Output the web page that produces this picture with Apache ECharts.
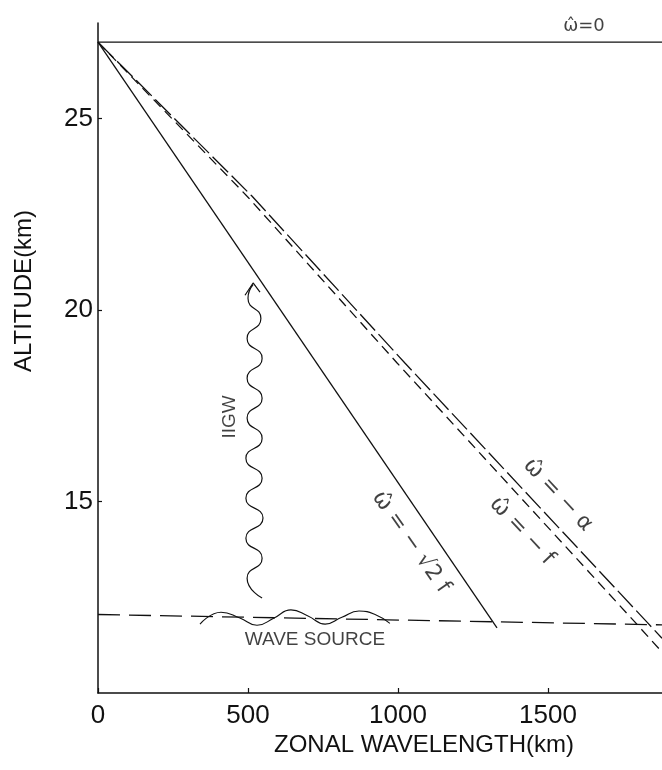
<!DOCTYPE html>
<html><head><meta charset="utf-8">
<script src="https://cdn.jsdelivr.net/npm/echarts@6/dist/echarts.min.js"></script>
<style>html,body{margin:0;padding:0;background:#fff}</style>
</head><body>
<div id="c" style="width:662px;height:770px"></div>
<script>
// ---- data (km, altitude km) ----
var xTicks = [0, 500, 1000, 1500];
var yTicks = [15, 20, 25];
var topLine = [[0, 27], [1880, 27]];                       // omega-hat = 0
var solidLine = [[0, 27], [1330, 11.70]];                  // omega-hat = -sqrt2 f
var dashF = [[0, 27], [500, 22.95], [997, 18.62], [1790, 11.85], [1880, 11.07]];   // omega-hat = -f
var dashA = [[0, 27], [513, 22.98], [1023, 18.62], [1830, 11.85], [1880, 11.43]];  // omega-hat = -alpha
var waveSource = [[0, 12.05], [1880, 11.78]];
var sourceWave = [[340, 11.80], [410, 12.11], [473, 11.96], [530, 11.77], [587, 11.96], [643, 12.17],
  [700, 12.01], [757, 11.80], [813, 11.98], [870, 12.14], [927, 12.04], [973, 11.82]];
var iigwWave = [[547, 12.48], [497, 13.00], [547, 13.52], [493, 14.04], [550, 14.57], [493, 15.09],
  [547, 15.61], [493, 16.13], [547, 16.65], [497, 17.18], [547, 17.70], [497, 18.22], [547, 18.74],
  [497, 19.26], [543, 19.78], [500, 20.31], [517, 20.67]];
var iigwArrow = [[490, 20.39], [517, 20.71], [540, 20.47]];
var annotations = [
  {text: 'ω̂=0', at: [1620, 27.42], rot: 0, size: 18},
  {text: 'ω̂ = − √2 f', at: [1043, 13.94], rot: -55, size: 22},
  {text: 'ω̂ = − f', at: [1413, 14.23], rot: -47, size: 22},
  {text: 'ω̂ = − α', at: [1533, 15.17], rot: -47, size: 22},
  {text: 'IIGW', at: [440, 17.21], rot: 90, size: 19},
  {text: 'WAVE SOURCE', at: [723, 11.38], rot: 0, size: 19}
];

var INK = '#111';
var FONT = 'Liberation Sans';
function lineSeries(data, type, width, smooth) {
  return {type: 'line', data: data, symbol: 'none', smooth: smooth || false, silent: true,
    lineStyle: {color: INK, width: width, type: type}, z: 3};
}
var ch = echarts.init(document.getElementById('c'), null, {renderer: 'canvas'});
ch.setOption({
  animation: false,
  backgroundColor: '#fff',
  grid: {left: 98, right: 0, top: 23, bottom: 77},
  xAxis: {
    type: 'value', min: 0, max: 1880, interval: 500,
    axisLine: {show: true, lineStyle: {color: INK, width: 1.5}},
    axisTick: {show: true, inside: true, length: 5, customValues: xTicks, lineStyle: {color: INK, width: 1.2}},
    axisLabel: {show: true, customValues: xTicks, margin: 10, color: INK, fontSize: 26, fontFamily: FONT,
      formatter: function (v) { return String(v); }},
    splitLine: {show: false}
  },
  yAxis: {
    type: 'value', min: 10, max: 27.5, interval: 5,
    axisLine: {show: true, onZero: false, lineStyle: {color: INK, width: 1.5}},
    axisTick: {show: true, inside: true, length: 4, customValues: yTicks, lineStyle: {color: INK, width: 1.2}},
    axisLabel: {show: true, customValues: yTicks, margin: 5, color: INK, fontSize: 26, fontFamily: FONT,
      formatter: function (v) { return String(v); }},
    splitLine: {show: false}
  },
  graphic: [
    {type: 'text', x: 424, y: 745, style: {text: 'ZONAL WAVELENGTH(km)', fill: INK, font: '24px "Liberation Sans"', align: 'center', verticalAlign: 'middle'}},
    {type: 'text', x: 24, y: 291, rotation: Math.PI / 2, style: {text: 'ALTITUDE(km)', fill: INK, font: '24px "Liberation Sans"', align: 'center', verticalAlign: 'middle'}}
  ],
  series: [
    lineSeries(topLine, 'solid', 1.4),
    lineSeries(solidLine, 'solid', 1.3),
    lineSeries(dashF, [10, 6], 1.3),
    lineSeries(dashA, [22, 5], 1.3),
    lineSeries(waveSource, [22, 9], 1.3),
    lineSeries(sourceWave, 'solid', 1.1, 0.5),
    lineSeries(iigwWave, 'solid', 1.2, 0.6),
    lineSeries(iigwArrow, 'solid', 1.2),
    {
      type: 'scatter', symbolSize: 0, silent: true, z: 5,
      data: annotations.map(function (a) {
        return {value: a.at, label: {show: true, position: 'inside', formatter: a.text, rotate: a.rot,
          color: INK, fontSize: a.size, fontFamily: a.text === 'IIGW' || a.text === 'WAVE SOURCE' ? FONT : 'DejaVu Sans'}};
      })
    }
  ]
});
</script>
</body></html>
